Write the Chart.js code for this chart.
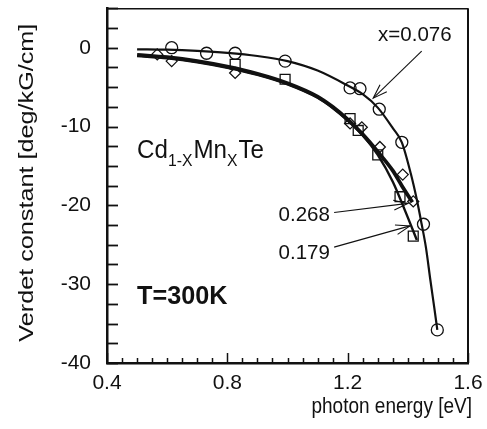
<!DOCTYPE html>
<html><head><meta charset="utf-8">
<script src="https://cdn.jsdelivr.net/npm/chart.js@4/dist/chart.umd.min.js"></script>
<style>html,body{margin:0;padding:0;background:#fff}#wrap{width:487px;height:429px}</style>
</head><body><div id="wrap"><canvas id="c" width="487" height="429"></canvas></div>
<script>
const FONT = "'Liberation Sans', Arial, Helvetica, sans-serif";

// ---- data (photon energy [eV], Verdet constant [deg/kG/cm]) ----
// x = 0.076 : circles
const circleE = [0.615, 0.731, 0.826, 0.992, 1.208, 1.241, 1.305, 1.380, 1.452, 1.498];
const circleV = [0.0, -0.7, -0.7, -1.7, -5.1, -5.2, -7.8, -12.0, -22.4, -35.8];
// x = 0.179 : squares
const squareE = [0.826, 0.992, 1.208, 1.235, 1.300, 1.374, 1.418];
const squareV = [-2.1, -4.0, -9.0, -10.5, -13.6, -18.9, -23.9];
// x = 0.268 : diamonds
const diamondE = [0.567, 0.615, 0.826, 1.208, 1.247, 1.307, 1.383, 1.418];
const diamondV = [-0.85, -1.7, -3.2, -9.6, -10.1, -12.6, -16.1, -19.5];

// fitted curves
const fit076E = [0.50, 0.60, 0.70, 0.80, 0.90, 1.00, 1.10, 1.20, 1.25, 1.30, 1.35, 1.38, 1.41, 1.43, 1.446, 1.46, 1.475, 1.488, 1.498];
const fit076V = [-0.2, -0.25, -0.4, -0.65, -1.05, -1.7, -2.9, -4.8, -5.9, -7.6, -10.2, -12.0, -16.0, -19.3, -22.4, -25.3, -29.5, -33.0, -35.8];
const fit179E = [0.50, 0.60, 0.70, 0.80, 0.90, 1.00, 1.10, 1.15, 1.20, 1.25, 1.30, 1.35, 1.39, 1.43];
const fit179V = [-1.05, -1.35, -1.85, -2.55, -3.45, -4.65, -6.35, -7.65, -9.25, -11.1, -13.6, -17.0, -20.6, -24.4];
const fit268E = [0.50, 0.60, 0.70, 0.80, 0.90, 1.00, 1.10, 1.15, 1.20, 1.25, 1.30, 1.35, 1.38, 1.415];
const fit268V = [-0.9, -1.2, -1.7, -2.4, -3.3, -4.5, -6.2, -7.5, -9.1, -11.0, -13.2, -15.6, -17.5, -19.6];

// axis ticks
const xTickLabels = [0.4, 0.8, 1.2, 1.6];
const yTickLabels = [0, -10, -20, -30, -40];
const xMinorStep = 0.05;
const yMinorStep = 2.5;
const xTitle = 'photon energy [eV]';
const yTitle = 'Verdet constant [deg/kG/cm]';

const pts = (xs, ys) => xs.map((v, i) => ({x: v, y: ys[i]}));

const lineDs = (xs, ys, w) => ({
  data: pts(xs, ys), showLine: true, pointRadius: 0, borderColor: '#111',
  borderWidth: w, cubicInterpolationMode: 'monotone', fill: false, order: 2
});
const markDs = (xs, ys, style, r) => ({
  data: pts(xs, ys), showLine: false, pointStyle: style, pointRadius: r,
  pointBorderColor: '#111', pointBackgroundColor: 'rgba(0,0,0,0)', pointBorderWidth: 1.3, order: 1
});

// annotations in data coordinates
const notes = [
  {text: 'x=0.076', x: 1.301, y: 1.57, align: 'left', size: 19},
  {text: '0.268', x: 1.141, y: -21.2, align: 'right', size: 19},
  {text: '0.179', x: 1.141, y: -26.1, align: 'right', size: 19}
];
const arrows = [
  {from: [1.446, -0.42], to: [1.285, -6.4]},
  {from: [1.155, -20.9], to: [1.400, -19.75]},
  {from: [1.155, -25.3], to: [1.407, -22.6]}
];

const STRETCH = 1.2; // the original scan is taller than wide

const deco = {
  id: 'deco',
  beforeDatasetsDraw(chart) {
    const {ctx, chartArea: a, scales: {x, y}} = chart;
    ctx.save();
    ctx.strokeStyle = '#111';
    ctx.lineWidth = 1.5;
    ctx.beginPath(); ctx.moveTo(a.left, a.top + 0.5); ctx.lineTo(a.right, a.top + 0.5); ctx.stroke();
    ctx.lineWidth = 2;
    ctx.beginPath(); ctx.moveTo(a.right, a.top); ctx.lineTo(a.right, a.bottom); ctx.stroke();
    ctx.lineWidth = 1.8;
    for (let v = y.min; v <= y.max + 1e-9; v += yMinorStep) {
      const p = Math.round(y.getPixelForValue(v)) + 0.5;
      ctx.beginPath(); ctx.moveTo(a.left, p); ctx.lineTo(a.left + 11, p); ctx.stroke();
    }
    ctx.lineWidth = 1.5;
    const n = Math.round((x.max - x.min) / xMinorStep);
    for (let k = 0; k <= n; k++) {
      const v = x.min + k * xMinorStep;
      const p = Math.round(x.getPixelForValue(v)) + 0.5;
      const major = k % 8 === 0;
      ctx.beginPath(); ctx.moveTo(p, a.bottom); ctx.lineTo(p, a.bottom - (major ? 10 : 5)); ctx.stroke();
    }
    // axis titles
    ctx.fillStyle = '#111';
    ctx.font = '19px ' + FONT;
    ctx.textBaseline = 'middle';
    ctx.save();
    ctx.translate(a.right + 4, x.bottom - 22);
    ctx.scale(1, STRETCH);
    ctx.textAlign = 'right';
    ctx.fillText(xTitle, 0, 0);
    ctx.restore();
    ctx.save();
    ctx.font = '20px ' + FONT;
    ctx.translate(y.left + 27, (a.top + a.bottom) / 2 - 3);
    ctx.rotate(-Math.PI / 2);
    ctx.scale(1.26, 1);
    ctx.textAlign = 'center';
    ctx.fillText(yTitle, 0, 0);
    ctx.restore();
    ctx.restore();
  },
  afterDatasetsDraw(chart) {
    const {ctx, scales: {x, y}} = chart;
    ctx.save();
    ctx.fillStyle = '#111';
    ctx.strokeStyle = '#111';
    ctx.textBaseline = 'middle';
    for (const n of notes) {
      ctx.save();
      ctx.font = n.size + 'px ' + FONT;
      ctx.textAlign = n.align;
      ctx.translate(x.getPixelForValue(n.x), y.getPixelForValue(n.y));
      ctx.scale(1.08, 1.1);
      ctx.fillText(n.text, 0, 0);
      ctx.restore();
    }
    ctx.lineWidth = 1.1;
    for (const ar of arrows) {
      const x0 = x.getPixelForValue(ar.from[0]), y0 = y.getPixelForValue(ar.from[1]);
      const x1 = x.getPixelForValue(ar.to[0]), y1 = y.getPixelForValue(ar.to[1]);
      ctx.beginPath(); ctx.moveTo(x0, y0); ctx.lineTo(x1, y1); ctx.stroke();
      const ang = Math.atan2(y1 - y0, x1 - x0), L = 15, sp = 0.33;
      ctx.beginPath();
      ctx.moveTo(x1 - L * Math.cos(ang - sp), y1 - L * Math.sin(ang - sp));
      ctx.lineTo(x1, y1);
      ctx.lineTo(x1 - L * Math.cos(ang + sp), y1 - L * Math.sin(ang + sp));
      ctx.stroke();
    }
    // Cd1-xMnxTe
    ctx.textAlign = 'left';
    ctx.textBaseline = 'alphabetic';
    let cx = x.getPixelForValue(0.5);
    const by = y.getPixelForValue(-14.0);
    const parts = [['Cd', 23, 0], ['1-X', 15, 8], ['Mn', 23, 0], ['X', 15, 8], ['Te', 23, 0]];
    for (const [t, s, dy] of parts) {
      ctx.save();
      ctx.font = s + 'px ' + FONT;
      ctx.translate(cx, by + dy);
      ctx.scale(1.05, 1.12);
      ctx.fillText(t, 0, 0);
      ctx.restore();
      ctx.font = s + 'px ' + FONT;
      cx += ctx.measureText(t).width * 1.05 + (s < 20 ? 1 : 0);
    }
    ctx.save();
    ctx.font = 'bold 24px ' + FONT;
    ctx.translate(x.getPixelForValue(0.5), y.getPixelForValue(-32.5));
    ctx.scale(1.05, 1.08);
    ctx.fillText('T=300K', 0, 0);
    ctx.restore();
    ctx.restore();
  }
};

new Chart(document.getElementById('c'), {
  type: 'scatter',
  data: {
    datasets: [
      lineDs(fit076E, fit076V, 2.2),
      lineDs(fit179E, fit179V, 2.4),
      lineDs(fit268E, fit268V, 3.8),
      markDs(circleE, circleV, 'circle', 6),
      markDs(squareE, squareV, 'rect', 7),
      markDs(diamondE, diamondV, 'rectRot', 5.5)
    ]
  },
  options: {
    responsive: false,
    animation: false,
    events: [],
    layout: {padding: {left: 0, right: 19, top: 5, bottom: 0}},
    plugins: {legend: {display: false}, tooltip: {enabled: false}},
    scales: {
      x: {
        type: 'linear', min: 0.4, max: 1.6,
        afterBuildTicks: s => { s.ticks = xTickLabels.map(v => ({value: v})); },
        afterFit: s => { s.height = 66; s.paddingLeft = 0; s.paddingRight = 0; },
        grid: {display: false, drawTicks: false},
        border: {display: true, color: '#111', width: 2.5},
        ticks: {padding: 8, color: '#111', font: {family: FONT, size: 21}, callback: v => v.toFixed(1)},
        title: {display: false}
      },
      y: {
        type: 'linear', min: -40, max: 5,
        afterBuildTicks: s => { s.ticks = yTickLabels.map(v => ({value: v})); },
        afterFit: s => { s.width = 107; s.paddingTop = 0; s.paddingBottom = 0; },
        grid: {display: false, drawTicks: false},
        border: {display: true, color: '#111', width: 2.5},
        ticks: {padding: 16, color: '#111', font: {family: FONT, size: 21}},
        title: {display: false}
      }
    }
  },
  plugins: [deco]
});
</script>
</body></html>
